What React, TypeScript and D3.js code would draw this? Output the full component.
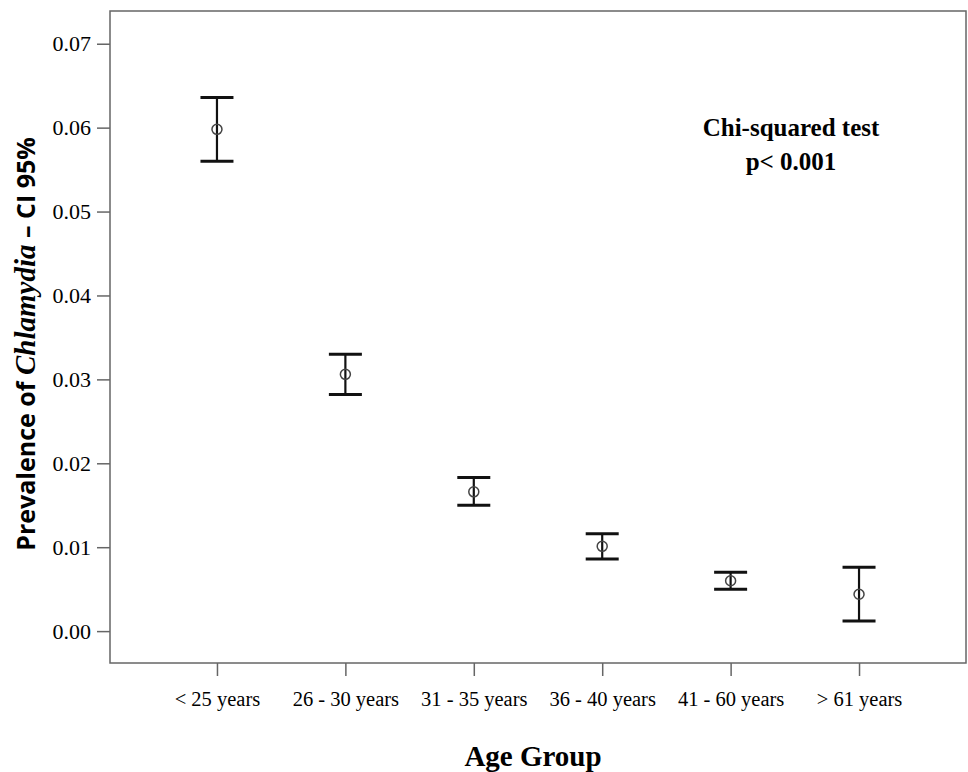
import React, { useEffect, useRef } from 'react';
import * as d3 from 'd3';

const ageGroups = ['< 25 years', '26 - 30 years', '31 - 35 years', '36 - 40 years', '41 - 60 years', '> 61 years'];
const prevalence = [0.0598, 0.0306, 0.0166, 0.0101, 0.0060, 0.0044];
const ciLower = [0.0560, 0.0282, 0.0150, 0.0086, 0.0050, 0.0012];
const ciUpper = [0.0636, 0.0330, 0.0183, 0.0116, 0.0070, 0.0076];
const yTicks = [0, 0.01, 0.02, 0.03, 0.04, 0.05, 0.06, 0.07];

const W = 968;
const H = 772;
const serif = '"Liberation Serif", "Times New Roman", serif';

const App = () => {
  const ref = useRef<SVGSVGElement | null>(null);

  useEffect(() => {
    const svg = d3.select(ref.current);
    svg.selectAll('*').remove();

    const left = 110, right = 966, top = 11, bottom = 663;

    const x = d3.scalePoint<string>()
      .domain(ageGroups)
      .range([left, right])
      .padding(0.833);

    const y = d3.scaleLinear()
      .domain([-0.0038, 0.0739])
      .range([bottom, top]);

    // frame
    svg.append('rect')
      .attr('x', left).attr('y', top)
      .attr('width', right - left).attr('height', bottom - top)
      .attr('fill', 'none')
      .attr('stroke', '#666')
      .attr('stroke-width', 1.5);

    const yAxis = svg.append('g')
      .attr('transform', `translate(${left},0)`)
      .call(d3.axisLeft(y).tickValues(yTicks).tickSize(13).tickPadding(6).tickFormat(d3.format('.2f')));
    yAxis.select('.domain').remove();
    yAxis.selectAll('line').attr('stroke', '#666').attr('stroke-width', 1.5);
    yAxis.selectAll('text')
      .attr('fill', '#000')
      .style('font-family', serif)
      .style('font-size', '22px');

    const xAxis = svg.append('g')
      .attr('transform', `translate(0,${bottom})`)
      .call(d3.axisBottom(x).tickSize(13).tickPadding(15));
    xAxis.select('.domain').remove();
    xAxis.selectAll('line').attr('stroke', '#666').attr('stroke-width', 1.5);
    xAxis.selectAll('text')
      .attr('fill', '#000')
      .style('font-family', serif)
      .style('font-size', '20.5px');

    const rows = ageGroups.map((g, i) => ({ g, v: prevalence[i], lo: ciLower[i], hi: ciUpper[i] }));
    const bars = svg.append('g').selectAll('g').data(rows).enter().append('g');
    const capW = 16.5;

    bars.append('line')
      .attr('x1', d => x(d.g)!).attr('x2', d => x(d.g)!)
      .attr('y1', d => y(d.hi)).attr('y2', d => y(d.lo))
      .attr('stroke', '#111').attr('stroke-width', 2.2);
    bars.append('line')
      .attr('x1', d => x(d.g)! - capW).attr('x2', d => x(d.g)! + capW)
      .attr('y1', d => y(d.hi)).attr('y2', d => y(d.hi))
      .attr('stroke', '#111').attr('stroke-width', 3);
    bars.append('line')
      .attr('x1', d => x(d.g)! - capW).attr('x2', d => x(d.g)! + capW)
      .attr('y1', d => y(d.lo)).attr('y2', d => y(d.lo))
      .attr('stroke', '#111').attr('stroke-width', 3);
    bars.append('circle')
      .attr('cx', d => x(d.g)!).attr('cy', d => y(d.v))
      .attr('r', 5)
      .attr('fill', 'none')
      .attr('stroke', '#444')
      .attr('stroke-width', 1.5);

    // annotation
    const note = svg.append('text')
      .attr('text-anchor', 'middle')
      .style('font-family', serif)
      .style('font-weight', 'bold')
      .style('font-size', '25px');
    note.append('tspan').attr('x', 791).attr('y', 136).text('Chi-squared test');
    note.append('tspan').attr('x', 791).attr('y', 170).text('p< 0.001');

    // x title
    svg.append('text')
      .attr('x', 533).attr('y', 766)
      .attr('text-anchor', 'middle')
      .style('font-family', serif)
      .style('font-weight', 'bold')
      .style('font-size', '29px')
      .text('Age Group');

    // y title
    const yt = svg.append('text')
      .attr('transform', 'translate(35,344) rotate(-90)')
      .attr('text-anchor', 'middle')
      .style('font-family', '"Open Sans", "Noto Sans", sans-serif')
      .style('font-weight', 'bold')
      .style('font-size', '25px');
    yt.append('tspan').text('Prevalence of ');
    yt.append('tspan')
      .style('font-family', serif)
      .style('font-style', 'italic')
      .style('font-size', '29px')
      .text('Chlamydia');
    yt.append('tspan').text(' \u2013 CI 95%');
  }, []);

  return (
    <svg ref={ref} width={W} height={H}
      style={{ position: 'absolute', left: 0, top: 0, background: '#fff' }} />
  );
};

export default App;
